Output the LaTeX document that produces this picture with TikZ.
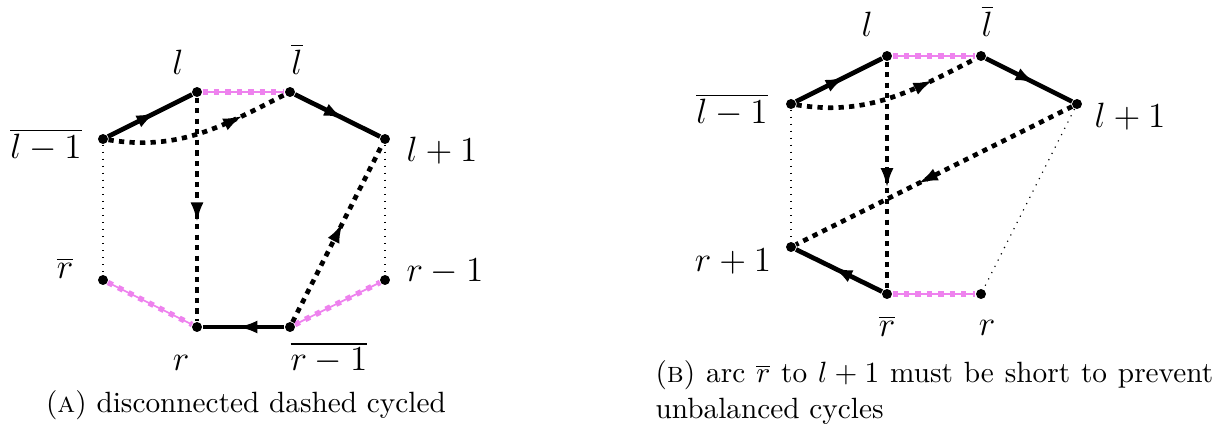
\documentclass[tikz,border=0pt]{standalone}
\usetikzlibrary{arrows.meta,decorations.markings}
\definecolor{violetpink}{RGB}{238,130,238}
\begin{document}
\begin{tikzpicture}[x=1.2cm, y=1.2cm, >={Latex[length=7pt,width=4.4pt]}]

\tikzstyle{vtx} = [circle, fill=black, inner sep=0pt, minimum size=3.4pt]
\tikzstyle{lbl} = [font=\large, inner sep=0pt]
\tikzstyle{captext} = [inner sep=0pt]
\tikzstyle{solidedge} = [line width=1.6pt]
\tikzstyle{dashedge} = [line width=1.6pt, dash pattern=on 1.8pt off 1.8pt]
\tikzstyle{dotedge} = [dotted, thin]
\tikzstyle{pinkedge} = [violetpink, line width=1.9pt, dash pattern=on 1.8pt off 2.1pt,
  preaction={draw, violetpink, solid, line width=0.6pt}]
\tikzset{midarrow/.style={postaction={decorate},
  decoration={markings, mark=at position #1 with {\arrow{>}}}}}

\useasboundingbox (0,0) rectangle (12.26,4.29);

% --- (a) vertices
\node[vtx] (a-lm) at (1.03, 2.90) {};
\node[vtx] (a-l) at (1.97, 3.37) {};
\node[vtx] (a-lb) at (2.90, 3.37) {};
\node[vtx] (a-lp) at (3.85, 2.90) {};
\node[vtx] (a-rb) at (1.03, 1.49) {};
\node[vtx] (a-rm) at (3.85, 1.49) {};
\node[vtx] (a-r) at (1.97, 1.02) {};
\node[vtx] (a-rmb) at (2.90, 1.02) {};

\node[lbl] (a-l-txt) at (1.78, 3.67) {$l$};
\node[lbl] (a-lb-txt) at (2.97, 3.70) {$\overline{l}$};
\node[lbl] (a-lm-txt) at (0.46, 2.84) {$\overline{l-1}$};
\node[lbl] (a-lp-txt) at (4.42, 2.78) {$l+1$};
\node[lbl] (a-rb-txt) at (0.65, 1.61) {$\overline{r}$};
\node[lbl] (a-rm-txt) at (4.45, 1.57) {$r-1$};
\node[lbl] (a-r-txt) at (1.81, 0.66) {$r$};
\node[lbl] (a-rmb-txt) at (3.29, 0.71) {$\overline{r-1}$};

% --- (a) edges
\draw[pinkedge] (a-l) -- (a-lb);
\draw[pinkedge] (a-rb) -- (a-r);
\draw[pinkedge] (a-rmb) -- (a-rm);
\draw[dotedge] (a-lm) -- (a-rb);
\draw[dotedge] (a-lp) -- (a-rm);

\draw[solidedge, midarrow=0.58] (a-lm) -- (a-l);
\draw[solidedge, midarrow=0.58] (a-lb) -- (a-lp);
\draw[solidedge, midarrow=0.58] (a-rmb) -- (a-r);

\draw[dashedge, midarrow=0.56] (a-l) -- (a-r);
\draw[dashedge, midarrow=0.56] (a-rmb) -- (a-lp);
\draw[dashedge, midarrow=0.75] (a-lm) to[out=-9, in=207] (a-lb);

\node[captext] (capA) at (2.46, 0.24) {(\textsc{a}) disconnected dashed cycled};

% --- (b) vertices
\node[vtx] (b-lm) at (7.91, 3.25) {};
\node[vtx] (b-l) at (8.87, 3.73) {};
\node[vtx] (b-lb) at (9.81, 3.73) {};
\node[vtx] (b-lp) at (10.77, 3.25) {};
\node[vtx] (b-rp) at (7.91, 1.82) {};
\node[vtx] (b-rb) at (8.87, 1.35) {};
\node[vtx] (b-r) at (9.81, 1.35) {};

\node[lbl] (b-l-txt) at (8.67, 4.05) {$l$};
\node[lbl] (b-lb-txt) at (9.87, 4.08) {$\overline{l}$};
\node[lbl] (b-lm-txt) at (7.32, 3.19) {$\overline{l-1}$};
\node[lbl] (b-lp-txt) at (11.30, 3.12) {$l+1$};
\node[lbl] (b-rp-txt) at (7.33, 1.67) {$r+1$};
\node[lbl] (b-rb-txt) at (8.87, 1.03) {$\overline{r}$};
\node[lbl] (b-r-txt) at (9.87, 1.01) {$r$};

% --- (b) edges
\draw[pinkedge] (b-l) -- (b-lb);
\draw[pinkedge] (b-rb) -- (b-r);
\draw[dotedge] (b-lm) -- (b-rp);
\draw[dotedge] (b-lp) -- (b-r);

\draw[solidedge, midarrow=0.58] (b-lm) -- (b-l);
\draw[solidedge, midarrow=0.58] (b-lb) -- (b-lp);
\draw[solidedge, midarrow=0.58] (b-rb) -- (b-rp);

\draw[dashedge, midarrow=0.56] (b-l) -- (b-rb);
\draw[dashedge, midarrow=0.56] (b-lp) -- (b-rp);
\draw[dashedge, midarrow=0.75] (b-lm) to[out=-9, in=207] (b-lb);

\node[captext, anchor=west, align=left] (capB) at (6.55, 0.365)
  {\makebox[190.4pt][s]{(\textsc{b}) arc $\overline{r}$ to $l+1$ must be short to prevent}\\unbalanced cycles};

\end{tikzpicture}
\end{document}
